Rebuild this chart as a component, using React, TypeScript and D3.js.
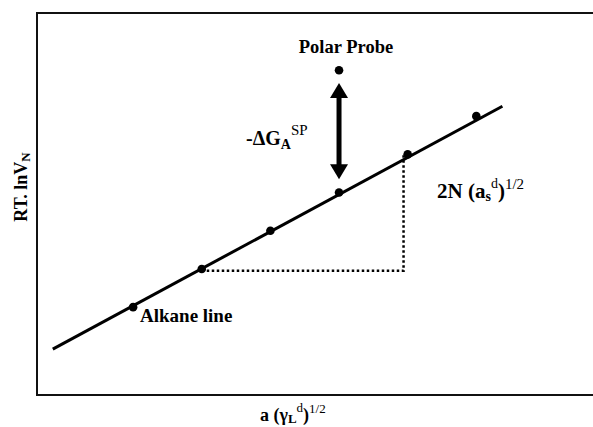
import React from 'react';
import * as d3 from 'd3';

// alkane probes (arbitrary units)
const alkaneX = [1, 2, 3, 4, 5, 6];
const alkaneY = [1, 2, 3, 4, 5, 6];
// fitted alkane line end points
const fitX = [-0.17, 6.38];
const fitY = [-0.1, 6.26];
// polar probe
const probeX = [4];
const probeY = [7.2];
// arrow between the line and the probe
const arrowY = [4.35, 6.87];
// dotted slope triangle
const slopeX = [2, 4.94, 4.94];
const slopeY = [1.95, 1.95, 5];

const xDomain = [-0.4, 7.7];
const yDomain = [-1.3, 8.7];

const W = 593;
const H = 427;
const font = 'Liberation Serif, DejaVu Serif, Times, serif';

export default function App() {
  const x = d3.scaleLinear().domain(xDomain).range([37, W]);
  const y = d3.scaleLinear().domain(yDomain).range([395, 13]);

  const fitPath = d3.line<number>().x((d) => x(fitX[d])).y((d) => y(fitY[d]))([0, 1]) || '';
  const slopePath = d3.line<number>().x((d) => x(slopeX[d])).y((d) => y(slopeY[d]))([0, 1, 2]) || '';

  const ax = x(probeX[0]);
  const yTop = y(arrowY[1]);
  const yBot = y(arrowY[0]);
  const headLen = 15;
  const headW = 9;

  return (
    <svg width={W} height={H}
      style={{ position: 'absolute', left: 0, top: 0, background: '#fff', fontFamily: font, fontWeight: 'bold' }}>
      {/* frame: left, top, bottom (open on the right) */}
      <path d={`M${W},${y(yDomain[1])}H${x(xDomain[0])}V${y(yDomain[0])}H${W}`} fill="none" stroke="#111" strokeWidth={2} />

      <path d={fitPath} stroke="#000" strokeWidth={3} fill="none" />
      {alkaneX.map((d, i) => (
        <circle key={i} cx={x(d)} cy={y(alkaneY[i])} r={4.3} fill="#000" />
      ))}

      <path d={slopePath} stroke="#000" strokeWidth={2.5} strokeDasharray="2.5 2.5" fill="none" />

      <circle cx={x(probeX[0])} cy={y(probeY[0])} r={4.3} fill="#000" />

      {/* double arrow */}
      <line x1={ax} x2={ax} y1={yTop + headLen - 1} y2={yBot - headLen + 1} stroke="#000" strokeWidth={5} />
      <path d={`M${ax},${yTop}L${ax - headW},${yTop + headLen}L${ax + headW},${yTop + headLen}Z`} fill="#000" />
      <path d={`M${ax},${yBot}L${ax - headW},${yBot - headLen}L${ax + headW},${yBot - headLen}Z`} fill="#000" />

      <text x={346} y={53} fontSize={18.5} textAnchor="middle">Polar Probe</text>

      <text x={246} y={145} fontSize={20}>
        -ΔG<tspan fontSize={14} dy={4}>A</tspan><tspan fontSize={15} fontWeight="normal" dy={-14}>SP</tspan>
      </text>

      <text x={437} y={198} fontSize={21}>
        2N (a<tspan fontSize={14} dy={3}>s</tspan><tspan fontSize={14} fontWeight="normal" dy={-13}>d</tspan>
        <tspan fontSize={21} dy={10}>)</tspan><tspan fontSize={15} fontWeight="normal" dy={-9}>1/2</tspan>
      </text>

      <text x={140} y={322} fontSize={19}>Alkane line</text>

      <text x={260} y={421} fontSize={18}>
        a (γ<tspan fontSize={13} dy={2}>L</tspan><tspan fontSize={13} fontWeight="normal" dy={-11}>d</tspan>
        <tspan fontSize={18} dy={9}>)</tspan><tspan fontSize={13} fontWeight="normal" dy={-8}>1/2</tspan>
      </text>

      <text transform="translate(27,187) rotate(-90)" fontSize={18} textAnchor="middle">
        RT. lnV<tspan fontSize={13} dy={3}>N</tspan>
      </text>
    </svg>
  );
}
